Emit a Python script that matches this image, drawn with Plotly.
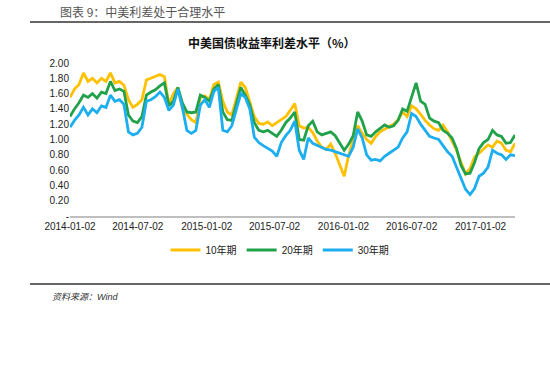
import pandas as pd
import plotly.graph_objects as go

dates = pd.date_range("2014-01-02", periods=100, freq="12D")

y10 = [1.55, 1.66, 1.72, 1.87, 1.76, 1.80, 1.74, 1.80, 1.76, 1.87,
       1.74, 1.76, 1.71, 1.52, 1.42, 1.46, 1.52, 1.78, 1.80, 1.83,
       1.85, 1.82, 1.46, 1.60, 1.68, 1.40, 1.33, 1.26, 1.22, 1.55,
       1.57, 1.52, 1.72, 1.75, 1.50, 1.36, 1.32, 1.55, 1.75, 1.68,
       1.50, 1.30, 1.21, 1.20, 1.23, 1.18, 1.22, 1.26, 1.30, 1.38,
       1.47, 1.18, 1.15, 1.16, 1.09, 0.98, 0.90, 0.87, 0.94, 0.82,
       0.66, 0.52, 0.80, 0.98, 1.18, 1.08, 1.00, 0.95, 1.04, 1.10,
       1.14, 1.17, 1.20, 1.26, 1.36, 1.30, 1.44, 1.40, 1.33, 1.25,
       1.19, 1.14, 1.12, 1.19, 1.10, 0.97, 0.86, 0.70, 0.55, 0.62,
       0.77, 0.82, 0.88, 0.93, 0.90, 0.98, 0.95, 0.86, 0.84, 0.95]

y20 = [1.30, 1.40, 1.48, 1.58, 1.55, 1.60, 1.54, 1.62, 1.60, 1.76,
       1.64, 1.66, 1.63, 1.32, 1.24, 1.22, 1.30, 1.58, 1.62, 1.65,
       1.70, 1.74, 1.44, 1.50, 1.68, 1.48, 1.36, 1.35, 1.36, 1.58,
       1.55, 1.50, 1.66, 1.72, 1.36, 1.26, 1.25, 1.48, 1.68, 1.58,
       1.45, 1.22, 1.12, 1.10, 1.12, 1.08, 1.04, 1.12, 1.22, 1.28,
       1.36, 1.00, 0.99, 1.18, 1.24, 1.10, 1.06, 1.08, 1.10, 1.05,
       0.95, 0.86, 0.94, 1.05, 1.36, 1.24, 1.06, 1.04, 1.10, 1.14,
       1.19, 1.16, 1.18, 1.25, 1.40, 1.37, 1.55, 1.74, 1.50, 1.46,
       1.28, 1.24, 1.22, 1.12, 1.08, 1.02, 0.88, 0.66, 0.55, 0.56,
       0.70, 0.88, 0.96, 1.00, 1.12, 1.06, 1.04, 0.95, 0.96, 1.06]

y30 = [1.16, 1.25, 1.32, 1.42, 1.32, 1.40, 1.35, 1.44, 1.42, 1.58,
       1.50, 1.52, 1.46, 1.10, 1.06, 1.08, 1.16, 1.50, 1.52, 1.56,
       1.62, 1.55, 1.38, 1.45, 1.66, 1.42, 1.12, 1.08, 1.12, 1.45,
       1.52, 1.42, 1.63, 1.68, 1.12, 1.10, 1.18, 1.40, 1.60, 1.55,
       1.40, 1.03, 0.96, 0.92, 0.88, 0.85, 0.78, 0.96, 1.05, 1.12,
       1.24, 0.86, 0.74, 1.02, 0.95, 0.92, 0.90, 0.87, 0.86, 0.84,
       0.83, 0.80, 0.78, 0.90, 1.14, 1.02, 0.80, 0.73, 0.74, 0.72,
       0.78, 0.82, 0.86, 0.90, 1.02, 1.10, 1.34, 1.30, 1.20, 1.12,
       1.04, 1.02, 1.00, 0.92, 0.84, 0.78, 0.64, 0.50, 0.35, 0.28,
       0.36, 0.52, 0.56, 0.64, 0.86, 0.82, 0.80, 0.74, 0.80, 0.79]

series_names = ["10年期", "20年期", "30年期"]
series_colors = ["#FFC000", "#21A24A", "#1DAEEF"]

x_tick_vals = ["2014-01-02", "2014-07-02", "2015-01-02", "2015-07-02",
               "2016-01-02", "2016-07-02", "2017-01-02"]
y_tick_vals = [0, 0.2, 0.4, 0.6, 0.8, 1.0, 1.2, 1.4, 1.6, 1.8, 2.0]
y_tick_text = ["-", "0.20", "0.40", "0.60", "0.80", "1.00", "1.20",
               "1.40", "1.60", "1.80", "2.00"]

fig = go.Figure()
for name, vals, col in zip(series_names, [y10, y20, y30], series_colors):
    fig.add_trace(go.Scatter(x=dates, y=vals, mode="lines", name=name,
                             line=dict(color=col, width=2.8)))

W, H = 550, 368
L, R, T, B = 70, 35, 63, 152
pw, ph = W - L - R, H - T - B


def px(x):
    return (x - L) / pw


def py(y):
    return (H - B - y) / ph


font_cjk = "Liberation Sans, Noto Sans CJK SC, sans-serif"

fig.update_layout(
    width=W, height=H,
    margin=dict(l=L, r=R, t=T, b=B),
    paper_bgcolor="white", plot_bgcolor="white",
    font=dict(family=font_cjk, size=10, color="#222222"),
    showlegend=True,
    legend=dict(orientation="h", x=px(280), xanchor="center",
                y=py(250), yanchor="middle", itemwidth=30,
                font=dict(size=10, color="#222222"),
                bgcolor="rgba(0,0,0,0)", tracegroupgap=0),
    xaxis=dict(type="date", range=["2014-01-02", "2017-04-04"],
               tickvals=x_tick_vals, ticktext=x_tick_vals,
               showgrid=False, zeroline=False, showline=True,
               linecolor="#BFBFBF", linewidth=1.5, ticks="",
               tickfont=dict(size=10, color="#222222")),
    yaxis=dict(range=[0, 2.0], tickvals=y_tick_vals, ticktext=y_tick_text,
               showgrid=False, zeroline=False, showline=False, ticks="",
               tickfont=dict(size=10, color="#222222")),
    shapes=[
        dict(type="line", xref="paper", yref="paper",
             x0=px(30), x1=px(550), y0=py(22), y1=py(22),
             line=dict(color="#333333", width=1.5)),
        dict(type="line", xref="paper", yref="paper",
             x0=px(30), x1=px(550), y0=py(284), y1=py(284),
             line=dict(color="#333333", width=1.5)),
    ],
    annotations=[
        dict(text="图表 9：中美利差处于合理水平", xref="paper", yref="paper",
             x=px(58), y=py(11), xanchor="left", yanchor="middle",
             showarrow=False,
             font=dict(family="Noto Sans CJK SC", size=12, color="#555555")),
        dict(text="<b>中美国债收益率利差水平（%）</b>", xref="paper", yref="paper",
             x=px(272), y=py(42), xanchor="center", yanchor="middle",
             showarrow=False,
             font=dict(family="Noto Sans CJK SC", size=12, color="#111111")),
        dict(text="<i>资料来源：Wind</i>", xref="paper", yref="paper",
             x=px(50), y=py(297), xanchor="left", yanchor="middle",
             showarrow=False,
             font=dict(family=font_cjk, size=9, color="#333333")),
    ],
)

fig.write_html(
    "out.html",
    config={"displayModeBar": False},
    post_script="document.body.style.margin='0';document.body.style.overflow='hidden';",
)
